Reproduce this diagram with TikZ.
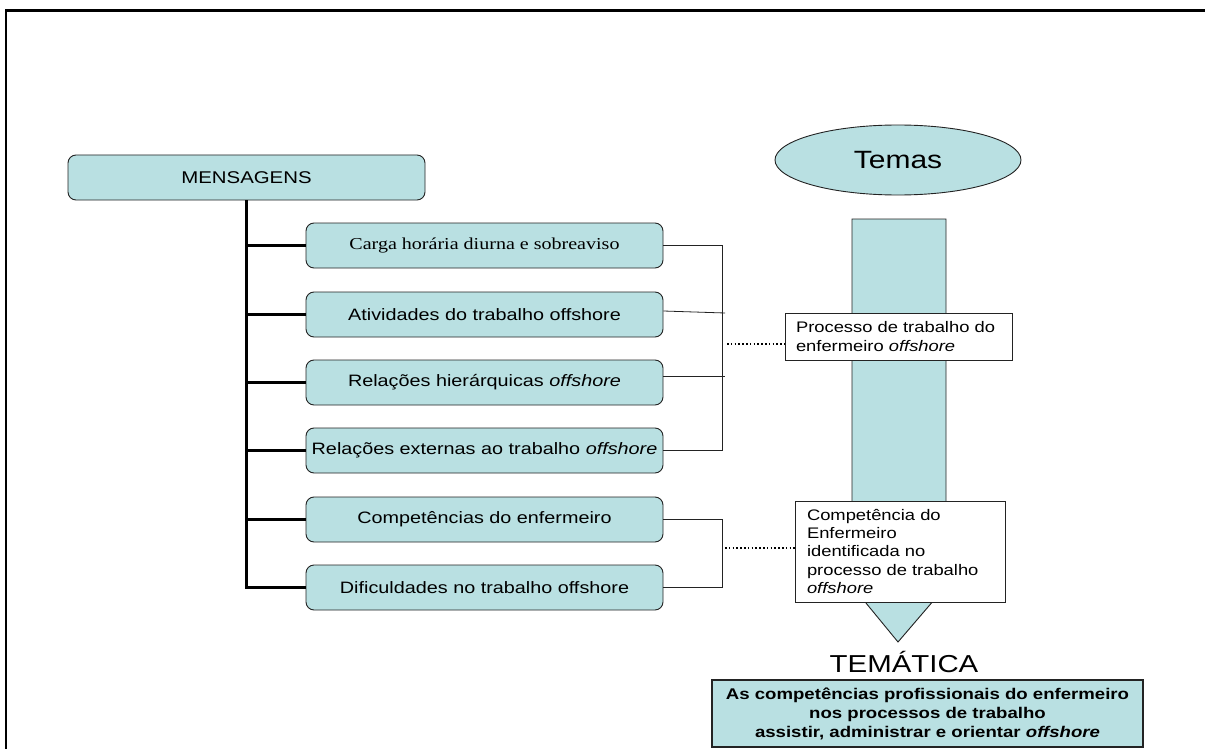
\documentclass[tikz,border=0pt]{standalone}
\usepackage{fontspec}
\setmainfont{Liberation Sans}[FakeStretch=1.2]
\newfontfamily\tnr{Liberation Serif}[FakeStretch=1.2]
\usetikzlibrary{shapes.geometric}
\definecolor{teal1}{RGB}{185,224,226}
\definecolor{edge}{RGB}{35,35,35}
\begin{document}
\begin{tikzpicture}[x=1pt,y=-1pt,
  msg/.style={draw=edge, line width=0.9pt, fill=teal1, rounded corners=8pt,
    minimum width=357pt, minimum height=45pt, inner sep=2pt,
    font=\fontsize{16.5}{19}\selectfont},
  wbox/.style={draw=edge, line width=0.9pt, fill=white, align=left, inner ysep=3pt},
  trunk/.style={line width=3pt, line join=miter},
  thinline/.style={line width=0.8pt, draw=edge},
  dots/.style={line width=1.6pt, dash pattern=on 1.6pt off 2.2pt}
]
\useasboundingbox (0,0) rectangle (1205,749);
% frame
\draw[line width=2.5pt] (6,749) -- (6,10.5) -- (1205,10.5);

% thematic arrow column
\draw[draw=edge, line width=0.9pt, fill=teal1]
  (852,219) -- (946,219) -- (946,586) -- (898,642) -- (852,586) -- cycle;

% Temas
\node[ellipse, draw=edge, line width=0.9pt, fill=teal1, minimum width=246pt,
  minimum height=70pt, inner sep=0pt, font=\fontsize{25}{28}\selectfont]
  (temas) at (898,160) {Temas};

% Messages
\node[msg, font=\fontsize{17}{20}\selectfont] (men) at (246.5,177.5) {MENSAGENS};
\node[msg, font=\tnr\fontsize{16.7}{19}\selectfont] (b1) at (484.5,245.5) {Carga horária diurna e sobreaviso};
\node[msg] (b2) at (484.5,314.5) {Atividades do trabalho offshore};
\node[msg] (b3) at (484.5,382.5) {Relações hierárquicas \textit{offshore}};
\node[msg] (b4) at (484.5,450.5) {Relações externas ao trabalho \textit{offshore}};
\node[msg] (b5) at (484.5,519.5) {Competências do enfermeiro};
\node[msg] (b6) at (484.5,587.5) {Dificuldades no trabalho offshore};

% trunk and branches
\draw[trunk] (men.south) -- (men.south |- b6.west) -- (b6.west);
\foreach \b in {b1,b2,b3,b4,b5}
  \draw[trunk] (men.south |- \b.west) -- (\b.west);

% theme boxes
\node[wbox, minimum width=227pt, minimum height=47pt, text width=205pt,
  inner xsep=11pt, font=\fontsize{15.3}{18.5}\selectfont]
  (pb) at (898.5,336.5) {Processo de trabalho do\\enfermeiro \textit{offshore}};
\node[wbox, minimum width=210pt, minimum height=101pt, text width=186pt,
  inner xsep=12pt, font=\fontsize{15.3}{18.2}\selectfont]
  (cb) at (900,551.5) {Competência do\\Enfermeiro\\identificada no\\processo de trabalho\\\textit{offshore}};

% bracket 1
\draw[thinline] (b1.east) -- (722,245.5) -- (722,450.5) -- (b4.east);
\draw[thinline] (b2.east |- 0,311) -- (725,313);
\draw[thinline] (b3.east |- 0,376) -- (725,376);
\coordinate (d1) at (727,344);
\draw[dots] (d1) -- (pb.west |- d1);

% bracket 2
\draw[thinline] (b5.east) -- (722,519.5) -- (722,587.5) -- (b6.east);
\coordinate (d2) at (725,548);
\draw[dots] (d2) -- (cb.west |- d2);

% tematica
\node[font=\fontsize{24.5}{28}\selectfont] (tem) at (904,662) {TEMÁTICA};
\node[draw=edge, line width=1.2pt, fill=teal1, minimum width=431pt, minimum height=67pt,
  text width=421pt, inner xsep=5pt, align=center,
  font=\bfseries\fontsize{15.5}{19}\selectfont] (bot) at (927.5,713.5)
  {As competências profissionais do enfermeiro\\nos processos de trabalho\\assistir, administrar e orientar \textit{offshore}};
\end{tikzpicture}
\end{document}
